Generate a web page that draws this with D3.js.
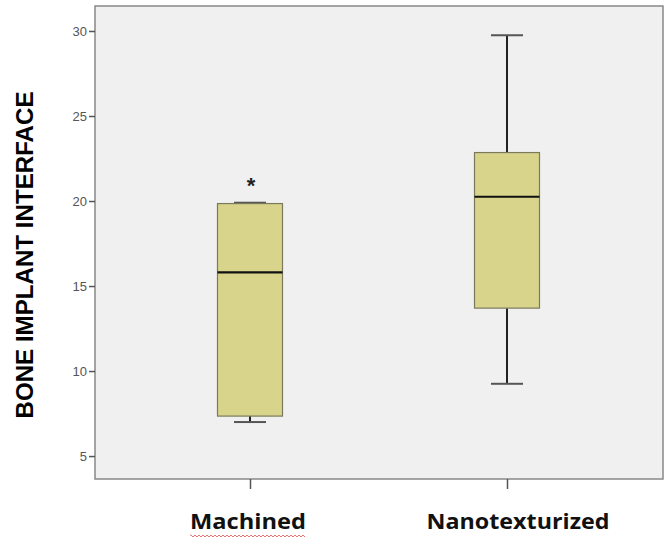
<!DOCTYPE html>
<html><head><meta charset="utf-8">
<script src="https://cdn.jsdelivr.net/npm/d3@7"></script>
<style>body{margin:0;background:#fff;}svg{display:block;}</style>
</head><body>
<svg id="c" width="669" height="540"></svg>
<script>
const categories = ["Machined", "Nanotexturized"];
const whiskerLow = [7.0, 9.25];
const q1 = [7.35, 13.7];
const median = [15.8, 20.25];
const q3 = [19.85, 22.85];
const whiskerHigh = [19.9, 29.75];
const outliers = [[21.1], []];
const yTicks = [5, 10, 15, 20, 25, 30];

const svg = d3.select("#c");
const L = 95, R = 663, T = 6, B = 479;
const y = d3.scaleLinear().domain([3.65, 31.47]).range([B, T]);
const x = d3.scalePoint().domain(categories).range([250, 507]).padding(0);

svg.append("rect").attr("x", L).attr("y", T).attr("width", R - L).attr("height", B - T)
  .attr("fill", "#f0f0f0").attr("stroke", "#888").attr("stroke-width", 1.5);

const ya = svg.append("g").attr("transform", `translate(${L},0)`)
  .call(d3.axisLeft(y).tickValues(yTicks).tickSize(6).tickPadding(2));
ya.select(".domain").remove();
ya.selectAll("line").attr("stroke", "#555").attr("stroke-width", 1.5);
ya.selectAll("text").attr("fill", "#555").style("font-family", "Liberation Sans, Arial, sans-serif").style("font-size", "13px");

const xa = svg.append("g").attr("transform", `translate(0,${B})`)
  .call(d3.axisBottom(x).tickSize(10).tickFormat(""));
xa.select(".domain").remove();
xa.selectAll("line").attr("stroke", "#555").attr("stroke-width", 1.5);

const bw = 65, cw = 32;
categories.forEach((c, i) => {
  const cx = x(c);
  const g = svg.append("g");
  g.append("line").attr("x1", cx).attr("x2", cx).attr("y1", y(whiskerHigh[i])).attr("y2", y(q3[i]))
    .attr("stroke", "#222").attr("stroke-width", 2);
  g.append("line").attr("x1", cx).attr("x2", cx).attr("y1", y(q1[i])).attr("y2", y(whiskerLow[i]))
    .attr("stroke", "#222").attr("stroke-width", 2);
  g.append("line").attr("x1", cx - cw / 2).attr("x2", cx + cw / 2).attr("y1", y(whiskerHigh[i])).attr("y2", y(whiskerHigh[i]))
    .attr("stroke", "#555").attr("stroke-width", 2);
  g.append("line").attr("x1", cx - cw / 2).attr("x2", cx + cw / 2).attr("y1", y(whiskerLow[i])).attr("y2", y(whiskerLow[i]))
    .attr("stroke", "#555").attr("stroke-width", 2);
  g.append("rect").attr("x", cx - bw / 2).attr("y", y(q3[i])).attr("width", bw).attr("height", y(q1[i]) - y(q3[i]))
    .attr("fill", "#d8d48c").attr("stroke", "#7a7a5a").attr("stroke-width", 1.2);
  g.append("line").attr("x1", cx - bw / 2).attr("x2", cx + bw / 2).attr("y1", y(median[i])).attr("y2", y(median[i]))
    .attr("stroke", "#111").attr("stroke-width", 2.2);
  outliers[i].forEach(v => {
    g.append("text").attr("x", cx + 1).attr("y", y(v) + 11).attr("text-anchor", "middle")
      .style("font-family", "Liberation Sans, Arial, sans-serif").style("font-weight", "bold").style("font-size", "22px").attr("fill", "#222").text("*");
  });
});

const labelX = [248, 518];
const labelW = [116, 183];
categories.forEach((c, i) => {
  svg.append("text").attr("x", labelX[i]).attr("y", 529).attr("text-anchor", "middle")
    .attr("textLength", labelW[i]).attr("lengthAdjust", "spacingAndGlyphs")
    .style("font-family", "Open Sans, sans-serif").style("font-weight", "bold").style("font-size", "21px")
    .attr("fill", "#111").text(c);
});
// spell-check squiggle under "Machined"
(function () {
  let d = "M190,535";
  for (let xx = 190; xx < 306; xx += 2) d += ` L${xx + 1},${(xx / 2) % 2 === 0 ? 537 : 535} `;
  svg.append("path").attr("d", d).attr("fill", "none").attr("stroke", "#e05050").attr("stroke-width", 0.8);
})();

svg.append("text").attr("transform", "translate(33,255) rotate(-90)").attr("text-anchor", "middle")
  .attr("textLength", 327).attr("lengthAdjust", "spacingAndGlyphs")
  .style("font-family", "Liberation Sans, Arial, sans-serif").style("font-weight", "bold").style("font-size", "24px")
  .attr("fill", "#000").text("BONE IMPLANT INTERFACE");
</script>
</body></html>
